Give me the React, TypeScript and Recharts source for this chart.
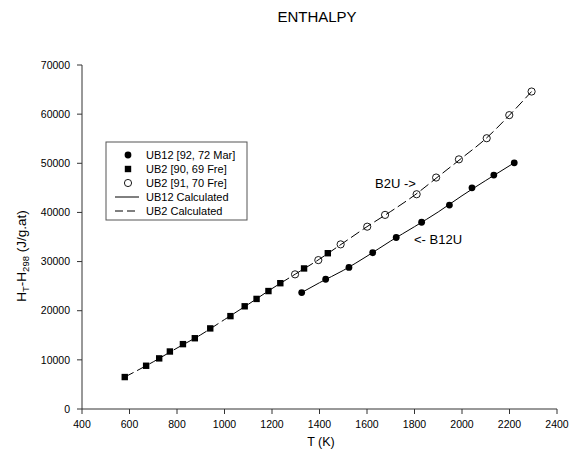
import React from "react";
import { ComposedChart, XAxis, YAxis, Line, Scatter } from "recharts";

// Measured enthalpy points
const UB12_T = [1325, 1426, 1524, 1624, 1723, 1830, 1947, 2042, 2134, 2220];
const UB12_H = [23700, 26400, 28800, 31800, 34900, 38000, 41500, 45000, 47600, 50100];

const UB2_FRE90_T = [580, 670, 725, 770, 825, 875, 940, 1025, 1085, 1135, 1185, 1235, 1335, 1435];
const UB2_FRE90_H = [6500, 8800, 10300, 11700, 13200, 14400, 16400, 18900, 20900, 22400, 24000, 25600, 28600, 31700];

const UB2_FRE91_T = [1297, 1395, 1489, 1601, 1676, 1809, 1891, 1987, 2104, 2199, 2293];
const UB2_FRE91_H = [27400, 30300, 33500, 37100, 39500, 43700, 47100, 50800, 55100, 59800, 64600];

// Calculated curves
const UB12_CALC_T = [1325, 1400, 1500, 1600, 1700, 1800, 1900, 2000, 2100, 2220];
const UB12_CALC_H = [23700, 25700, 28200, 31100, 34200, 37100, 40100, 43400, 46500, 50100];

const UB2_CALC_T = [580, 700, 800, 900, 1000, 1100, 1200, 1300, 1400, 1500, 1600, 1700, 1800, 1900, 2000, 2100, 2200, 2293];
const UB2_CALC_H = [6500, 9600, 12400, 15100, 18200, 21300, 24500, 27500, 30500, 33800, 37100, 40200, 43500, 47300, 51100, 55000, 59800, 64600];

const X_TICKS = [400, 600, 800, 1000, 1200, 1400, 1600, 1800, 2000, 2200, 2400];
const Y_TICKS = [0, 10000, 20000, 30000, 40000, 50000, 60000, 70000];

const LEGEND_LABELS = [
  "UB12 [92, 72 Mar]",
  "UB2 [90, 69 Fre]",
  "UB2 [91, 70 Fre]",
  "UB12 Calculated",
  "UB2 Calculated",
];

const zip = (ts: number[], hs: number[]) => ts.map((T, i) => ({ T, H: hs[i] }));

const ub12Pts = zip(UB12_T, UB12_H);
const fre90Pts = zip(UB2_FRE90_T, UB2_FRE90_H);
const fre91Pts = zip(UB2_FRE91_T, UB2_FRE91_H);
const ub12Calc = zip(UB12_CALC_T, UB12_CALC_H);
const ub2Calc = zip(UB2_CALC_T, UB2_CALC_H);

const FONT = "'Liberation Sans', Arial, Helvetica, sans-serif";
const INK = "#000";
const AXIS = "#333";
const DASH = "10 4";

const FilledCircle = (p: any) => <circle cx={p.cx} cy={p.cy} r={3.4} fill="#000" />;
const FilledSquare = (p: any) => <rect x={p.cx - 3.2} y={p.cy - 3.2} width={6.4} height={6.4} fill="#000" />;
const OpenCircle = (p: any) => <circle cx={p.cx} cy={p.cy} r={3.6} fill="none" stroke="#000" strokeWidth={0.9} />;

const tickStyle = { fontSize: 10.5, fill: INK, fontFamily: FONT };

function Overlay() {
  const lx = 106;
  const ly = 142;
  const rowY = [155, 169, 183, 197, 211];
  return (
    <svg width={582} height={456} style={{ position: "absolute", left: 0, top: 0, pointerEvents: "none" }}>
      <text x={317} y={22} textAnchor="middle" fontSize={15} fontFamily={FONT} fill={INK}>
        ENTHALPY
      </text>
      <text x={321} y={446} textAnchor="middle" fontSize={12.5} fontFamily={FONT} fill={INK}>
        T (K)
      </text>
      <text transform="translate(26,256) rotate(-90)" textAnchor="middle" fontSize={13.5} fontFamily={FONT} fill={INK}>
        <tspan>H</tspan>
        <tspan fontSize={9.5} dy={3}>T</tspan>
        <tspan dy={-3}>-H</tspan>
        <tspan fontSize={9.5} dy={3}>298</tspan>
        <tspan dy={-3}> (J/g.at)</tspan>
      </text>

      {/* legend */}
      <rect x={lx} y={ly} width={141} height={78} fill="#fff" stroke="#555" strokeWidth={1} />
      <circle cx={128} cy={rowY[0]} r={3.4} fill="#000" />
      <rect x={124.8} y={rowY[1] - 3.2} width={6.4} height={6.4} fill="#000" />
      <circle cx={128} cy={rowY[2]} r={3.6} fill="none" stroke="#000" strokeWidth={0.9} />
      <line x1={115} x2={139} y1={rowY[3]} y2={rowY[3]} stroke="#000" strokeWidth={1} />
      <line x1={115} x2={139} y1={rowY[4]} y2={rowY[4]} stroke="#000" strokeWidth={1} strokeDasharray="8 4" />
      {LEGEND_LABELS.map((s, i) => (
        <text key={s} x={146} y={rowY[i] + 4} fontSize={11} fontFamily={FONT} fill={INK}>
          {s}
        </text>
      ))}

      {/* curve annotations */}
      <text x={375} y={188} fontSize={13} fontFamily={FONT} fill={INK}>
        {"B2U ->"}
      </text>
      <text x={414} y={244} fontSize={13} fontFamily={FONT} fill={INK}>
        {"<- B12U"}
      </text>
    </svg>
  );
}

export default function App() {
  return (
    <div style={{ position: "absolute", left: 0, top: 0, width: 582, height: 456, background: "#fff" }}>
      <ComposedChart width={582} height={456} margin={{ top: 65, right: 25, bottom: 17, left: 22 }}>
        <XAxis
          xAxisId="b"
          type="number"
          dataKey="T"
          domain={[400, 2400]}
          ticks={X_TICKS}
          height={30}
          tickSize={5}
          tickMargin={7}
          stroke={AXIS}
          tick={tickStyle}
          interval={0}
        />
        <XAxis xAxisId="t" orientation="top" type="number" dataKey="T" domain={[400, 2400]} tick={false} tickLine={false} height={0} stroke={AXIS} />
        <YAxis
          yAxisId="l"
          type="number"
          domain={[0, 70000]}
          ticks={Y_TICKS}
          width={60}
          tickSize={5}
          tickMargin={7}
          stroke={AXIS}
          tick={tickStyle}
          interval={0}
        />
        <YAxis yAxisId="r" orientation="right" type="number" domain={[0, 70000]} tick={false} tickLine={false} width={0} stroke={AXIS} />

        <Line xAxisId="b" yAxisId="l" data={ub2Calc} dataKey="H" type="monotone" stroke="#000" strokeWidth={1} strokeDasharray={DASH} dot={false} isAnimationActive={false} />
        <Line xAxisId="b" yAxisId="l" data={ub12Calc} dataKey="H" type="monotone" stroke="#000" strokeWidth={1} dot={false} isAnimationActive={false} />

        <Scatter xAxisId="b" yAxisId="l" data={fre90Pts} dataKey="H" shape={FilledSquare} isAnimationActive={false} />
        <Scatter xAxisId="b" yAxisId="l" data={fre91Pts} dataKey="H" shape={OpenCircle} isAnimationActive={false} />
        <Scatter xAxisId="b" yAxisId="l" data={ub12Pts} dataKey="H" shape={FilledCircle} isAnimationActive={false} />
      </ComposedChart>
      <Overlay />
    </div>
  );
}
